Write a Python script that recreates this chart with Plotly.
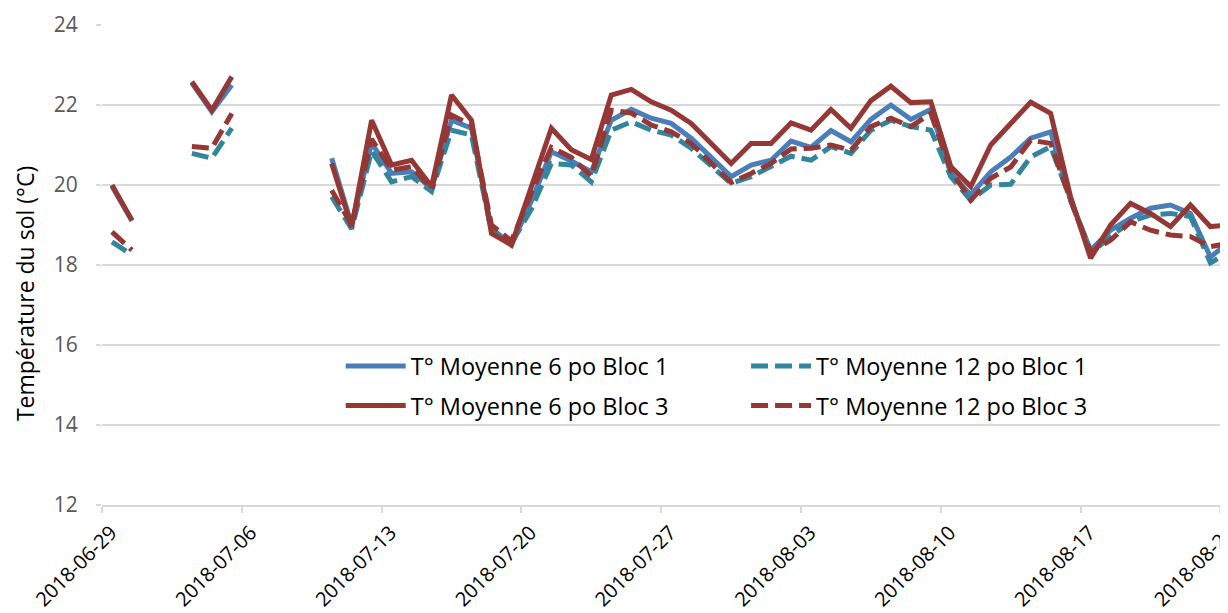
import pandas as pd
import plotly.graph_objects as go

# daily dates, 2018-06-29 .. 2018-08-24
dates = pd.date_range("2018-06-29", "2018-08-24", freq="D")

N = None
t6_bloc1 = [19.97, 19.10, N, N, 22.55, 21.83, 22.50, N, N, N, N,
            20.67, 19.00, 21.05, 20.29, 20.33, 19.92, 21.62, 21.42, 18.92, 18.50,
            19.60, 20.83, 20.60, 20.33, 21.62, 21.89, 21.67, 21.54, 21.17, 20.67,
            20.21, 20.50, 20.62, 21.10, 20.94, 21.36, 21.08, 21.64, 22.00, 21.64,
            21.89, 20.29, 19.75, 20.33, 20.70, 21.17, 21.33, 19.62, 18.37, 18.87,
            19.17, 19.42, 19.50, 19.29, 18.20, 18.60]
t12_bloc1 = [18.58, 18.25, N, N, 20.79, 20.67, 21.42, N, N, N, N,
             19.71, 18.90, 20.85, 20.08, 20.21, 19.84, 21.37, 21.25, 18.85, 18.54,
             19.40, 20.54, 20.50, 20.08, 21.37, 21.58, 21.37, 21.25, 20.92, 20.46,
             20.04, 20.21, 20.46, 20.72, 20.62, 20.96, 20.79, 21.37, 21.62, 21.46,
             21.37, 20.21, 19.62, 20.00, 20.02, 20.70, 20.96, 19.62, 18.29, 18.71,
             19.08, 19.25, 19.29, 19.21, 18.05, 18.35]
t6_bloc3 = [20.00, 19.12, N, N, 22.58, 21.87, 22.71, N, N, N, N,
            20.54, 18.95, 21.62, 20.50, 20.62, 19.96, 22.25, 21.62, 18.79, 18.50,
            19.96, 21.42, 20.88, 20.64, 22.25, 22.39, 22.08, 21.87, 21.54, 21.04,
            20.54, 21.04, 21.04, 21.55, 21.37, 21.89, 21.42, 22.11, 22.47, 22.06,
            22.08, 20.46, 19.96, 21.00, 21.52, 22.07, 21.79, 19.70, 18.17, 19.00,
            19.54, 19.29, 18.96, 19.50, 18.96, 19.00]
t12_bloc3 = [18.83, 18.37, N, N, 20.96, 20.92, 21.79, N, N, N, N,
             19.87, 19.00, 21.15, 20.37, 20.46, 19.90, 21.75, 21.50, 19.00, 18.60,
             19.80, 20.94, 20.69, 20.22, 21.87, 21.80, 21.50, 21.33, 21.04, 20.54,
             20.06, 20.29, 20.54, 20.90, 20.92, 21.00, 20.87, 21.46, 21.67, 21.46,
             21.79, 20.37, 19.62, 20.17, 20.45, 21.12, 21.04, 19.62, 18.33, 18.62,
             19.08, 18.87, 18.75, 18.71, 18.46, 18.55]

blue = '#4A7EBB'
teal = '#31859C'
red = '#953735'
font = 'Open Sans'
dash = '17px,7px'

# points sit in the middle of each day slot (Excel date axis)
x = dates + pd.Timedelta(hours=12)

fig = go.Figure()
fig.add_trace(go.Scatter(x=x, y=t6_bloc1, name='T° Moyenne 6 po Bloc 1', mode='lines',
                         line=dict(color=blue, width=5), legend='legend', legendgroup='a'))
fig.add_trace(go.Scatter(x=x, y=t12_bloc1, name='T° Moyenne 12 po Bloc 1', mode='lines',
                         line=dict(color=teal, width=5, dash=dash), legend='legend2', legendgroup='c'))
fig.add_trace(go.Scatter(x=x, y=t6_bloc3, name='T° Moyenne 6 po Bloc 3', mode='lines',
                         line=dict(color=red, width=5), legend='legend', legendgroup='b'))
fig.add_trace(go.Scatter(x=x, y=t12_bloc3, name='T° Moyenne 12 po Bloc 3', mode='lines',
                         line=dict(color=red, width=5, dash=dash), legend='legend2', legendgroup='d'))

leg = dict(font=dict(family=font, size=23.5, color='#000000'), bgcolor='rgba(0,0,0,0)',
           orientation='v', yanchor='top', xanchor='left', itemwidth=60, tracegroupgap=6)

# the page body adds an 8px offset, so the figure is 8px smaller than the window
fig.update_layout(
    width=1220, height=605,
    margin=dict(l=94, r=0, t=17, b=108),
    paper_bgcolor='white', plot_bgcolor='white',
    font=dict(family=font),
    showlegend=True,
    legend=dict(leg, x=0.212, y=0.335),
    legend2=dict(leg, x=0.572, y=0.335),
    xaxis=dict(
        type='date', automargin=False,
        range=[dates[0], dates[0] + pd.Timedelta(days=56.38)],
        tick0=dates[0], dtick=7 * 86400000, tickformat='%Y-%m-%d',
        tickangle=-45, tickfont=dict(family=font, size=20, color='#000000'),
        ticklabeloverflow='allow', ticklabelshift=9, ticklabelstandoff=0,
        ticks='outside', ticklen=6, tickcolor='#D9D9D9', tickwidth=2,
        showgrid=False, showline=True, linecolor='#D9D9D9', linewidth=2,
        zeroline=False,
    ),
    yaxis=dict(
        range=[12, 24], dtick=2, automargin=False,
        tickfont=dict(family=font, size=21, color='#595959'),
        ticks='outside', ticklen=5, tickcolor='#D9D9D9', tickwidth=2,
        ticklabelstandoff=14,
        showgrid=True, gridcolor='#D9D9D9', gridwidth=2,
        showline=False, zeroline=False,
    ),
    annotations=[dict(text='Température du sol (°C)', textangle=-90,
                      xref='paper', yref='paper', x=-0.069, y=0.44,
                      xanchor='center', yanchor='middle', showarrow=False,
                      font=dict(family=font, size=23, color='#000000'))],
)

fig.write_html("out.html")
